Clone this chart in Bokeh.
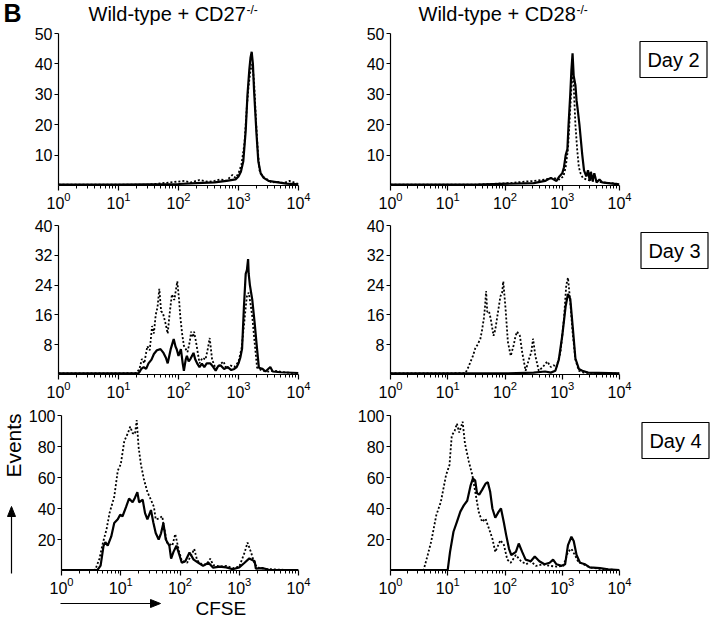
import numpy as np
from bokeh.plotting import figure
from bokeh.layouts import column, row
from bokeh.models import Range1d, FixedTicker
from bokeh.core.properties import value
from bokeh.embed import file_html
from bokeh.resources import INLINE

FONT = "Liberation Sans"

# ---------------- data: x in log10(CFSE) decades, y = events ----------------
# Day 2, Wild-type + CD27-/-
d2_cd27_dot_x = [0.0, 1.5, 2.1, 2.2, 2.35, 2.5, 2.6, 2.7, 2.8, 2.9, 2.95, 3.0, 3.05, 3.1, 3.14, 3.17, 3.2, 3.23, 3.26, 3.29, 3.32, 3.35, 3.4, 3.48, 3.55, 3.65, 3.75, 3.85, 4.0]
d2_cd27_dot_y = [0.3, 0.3, 1.5, 1.0, 1.8, 1.2, 1.5, 2.0, 1.6, 3.5, 2.5, 4.0, 7, 14, 26, 33, 38, 40, 34, 22, 12, 5, 3, 2, 1.0, 1.2, 0.8, 1.5, 0.5]
d2_cd27_sol_x = [0.0, 1.0, 2.0, 2.3, 2.6, 2.8, 2.95, 3.0, 3.04, 3.08, 3.12, 3.15, 3.18, 3.2, 3.22, 3.24, 3.26, 3.28, 3.3, 3.33, 3.37, 3.42, 3.5, 3.6, 3.8, 4.0]
d2_cd27_sol_y = [0.3, 0.3, 0.5, 0.8, 1.0, 1.5, 2.0, 3.0, 4.5, 8, 18, 30, 38, 42, 44, 40, 31, 24, 17, 8, 4, 2.5, 1.5, 1.2, 0.6, 0.4]

# Day 2, Wild-type + CD28-/-
d2_cd28_dot_x = [0.0, 1.5, 2.1, 2.3, 2.5, 2.7, 2.85, 2.95, 3.02, 3.06, 3.1, 3.13, 3.16, 3.18, 3.2, 3.23, 3.26, 3.29, 3.32, 3.36, 3.42, 3.5, 3.6, 3.7, 3.85, 4.0]
d2_cd28_dot_y = [0.3, 0.3, 0.8, 1.2, 1.5, 2.0, 2.5, 2.0, 3.0, 6, 12, 22, 32, 38, 33, 20, 12, 6, 4, 2.5, 2.0, 1.5, 1.5, 1.0, 0.8, 0.5]
d2_cd28_sol_x = [0.0, 1.5, 2.5, 2.7, 2.8, 2.9, 2.95, 3.0, 3.03, 3.06, 3.09, 3.11, 3.14, 3.16, 3.18, 3.2, 3.23, 3.25, 3.27, 3.3, 3.32, 3.35, 3.38, 3.42, 3.45, 3.48, 3.5, 3.53, 3.56, 3.6, 3.65, 3.7, 3.8, 4.0]
d2_cd28_sol_y = [0.3, 0.3, 0.8, 1.5, 2.5, 1.5, 3.0, 4.0, 6, 10, 12, 20, 30, 38, 43.5, 36, 33, 28, 25, 20, 16, 10, 5, 3, 5, 1.5, 4.5, 1.5, 4.0, 1.0, 2.0, 1.0, 0.8, 0.4]

# Day 3, Wild-type + CD27-/-
d3_cd27_dot_x = [0.0, 1.0, 1.3, 1.35, 1.39, 1.43, 1.48, 1.52, 1.56, 1.59, 1.62, 1.65, 1.68, 1.71, 1.74, 1.78, 1.82, 1.85, 1.89, 1.93, 1.98, 2.01, 2.03, 2.06, 2.09, 2.15, 2.19, 2.21, 2.24, 2.26, 2.3, 2.35, 2.4, 2.45, 2.49, 2.52, 2.56, 2.62, 2.68, 2.75, 2.8, 2.87, 2.93, 3.0, 3.05, 3.09, 3.12, 3.14, 3.17, 3.2, 3.23, 3.27, 3.31, 3.4, 3.5, 3.6, 3.8, 4.0]
d3_cd27_dot_y = [0.3, 0.3, 0.4, 1.5, 4.2, 3.0, 7.6, 6.5, 13, 11, 16, 18, 23, 17, 16.5, 14, 11, 16, 21.5, 20, 25, 20, 15.5, 11, 7.7, 6, 9, 11.5, 10, 11.5, 8, 3, 4.5, 4, 7, 9.8, 4, 1.5, 2.5, 3.5, 1.5, 2.4, 2.0, 3.4, 7, 13, 18, 21, 22, 19, 15.5, 8.4, 1.8, 1.0, 0.8, 1.0, 0.5, 0.4]
d3_cd27_sol_x = [0.0, 1.0, 1.34, 1.38, 1.42, 1.46, 1.5, 1.55, 1.59, 1.64, 1.7, 1.75, 1.79, 1.82, 1.87, 1.92, 1.95, 1.97, 2.0, 2.04, 2.07, 2.09, 2.12, 2.14, 2.17, 2.2, 2.25, 2.28, 2.31, 2.35, 2.39, 2.43, 2.47, 2.53, 2.58, 2.62, 2.66, 2.7, 2.76, 2.82, 2.88, 2.93, 2.97, 3.0, 3.03, 3.06, 3.09, 3.12, 3.14, 3.16, 3.17, 3.19, 3.23, 3.27, 3.3, 3.34, 3.4, 3.45, 3.53, 3.57, 3.7, 4.0]
d3_cd27_sol_y = [0.3, 0.3, 0.4, 1.5, 2, 1.5, 3, 4, 5.5, 6.5, 6.8, 5.8, 4.5, 3, 6.8, 9.5, 7.5, 6.8, 5, 6.8, 3, 1, 4, 5, 3.5, 4.2, 5.8, 4, 3, 2, 2.9, 2, 3, 3, 2, 1, 2.2, 2.5, 1.5, 2, 1.2, 1.5, 2, 3, 4.5, 7, 18, 27, 28, 31, 27, 24, 20, 13.7, 8.4, 1.8, 1.5, 0.8, 2, 0.8, 0.6, 0.4]

# Day 3, Wild-type + CD28-/-
d3_cd28_dot_x = [0.0, 1.0, 1.31, 1.36, 1.4, 1.44, 1.48, 1.52, 1.57, 1.6, 1.63, 1.65, 1.67, 1.69, 1.72, 1.75, 1.8, 1.83, 1.86, 1.89, 1.92, 1.95, 1.97, 2.01, 2.05, 2.1, 2.15, 2.18, 2.21, 2.26, 2.3, 2.36, 2.42, 2.46, 2.49, 2.53, 2.59, 2.66, 2.74, 2.8, 2.85, 2.9, 2.97, 3.03, 3.07, 3.1, 3.14, 3.18, 3.23, 3.29, 3.38, 3.6, 4.0]
d3_cd28_dot_y = [0.3, 0.3, 0.4, 2, 3.5, 5, 7, 8, 9.6, 12, 15, 18, 22.4, 16.8, 17, 15, 10.4, 12, 15, 18, 21, 22, 25, 17.6, 8.8, 5, 7.8, 10, 11.5, 10.4, 6, 1, 4.2, 6, 9.6, 5, 1, 2, 3.5, 2, 2.5, 2, 6, 15, 24, 26, 19.5, 11.5, 4, 1, 0.5, 0.4, 0.3]
d3_cd28_sol_x = [0.0, 2.0, 2.5, 2.7, 2.8, 2.88, 2.94, 3.0, 3.06, 3.1, 3.14, 3.19, 3.23, 3.29, 3.35, 3.45, 4.0]
d3_cd28_sol_y = [0.3, 0.3, 0.5, 0.8, 0.5, 1, 4, 10.4, 18.4, 21.6, 20.3, 11.5, 4.3, 1.5, 1, 0.5, 0.3]

# Day 4, Wild-type + CD27-/-
d4_cd27_dot_x = [0.0, 0.5, 0.57, 0.64, 0.7, 0.76, 0.81, 0.89, 0.95, 1.0, 1.06, 1.12, 1.16, 1.2, 1.24, 1.27, 1.3, 1.34, 1.39, 1.45, 1.51, 1.56, 1.59, 1.64, 1.7, 1.73, 1.78, 1.87, 1.92, 1.98, 2.03, 2.12, 2.2, 2.24, 2.29, 2.37, 2.45, 2.51, 2.56, 2.67, 2.78, 2.89, 3.0, 3.09, 3.14, 3.2, 3.26, 3.34, 3.45, 3.7, 4.0]
d4_cd27_dot_y = [0.3, 0.3, 0.5, 7.6, 18, 26.5, 37, 47.5, 64.5, 68.5, 83.5, 88.6, 92.8, 88.6, 88, 97, 80, 68.5, 59, 50.6, 45.6, 41, 33, 33.5, 35, 28, 18, 16, 23.5, 13, 6.3, 5, 10.6, 13.9, 6.5, 4, 4, 7.6, 3.5, 2.5, 3, 1.5, 2.5, 11.6, 18, 11.6, 4, 1.5, 1, 0.5, 0.3]
d4_cd27_sol_x = [0.0, 0.55, 0.61, 0.66, 0.71, 0.74, 0.78, 0.84, 0.89, 0.95, 0.99, 1.03, 1.09, 1.14, 1.2, 1.24, 1.28, 1.31, 1.37, 1.41, 1.45, 1.51, 1.55, 1.59, 1.64, 1.68, 1.72, 1.76, 1.82, 1.85, 1.89, 1.94, 1.99, 2.03, 2.09, 2.16, 2.23, 2.31, 2.39, 2.48, 2.56, 2.67, 2.78, 2.89, 3.0, 3.09, 3.17, 3.26, 3.28, 3.39, 3.5, 4.0]
d4_cd27_sol_y = [0.3, 0.3, 0.5, 3.1, 16, 18.3, 16, 22, 30.6, 33, 36, 35, 41, 46.4, 44, 47, 50.6, 44, 45.7, 37, 33, 39, 31, 24.2, 20, 24, 30.6, 20, 16, 7.6, 12, 16, 10, 5, 6, 11.6, 7, 5, 3, 5, 1.8, 2.5, 2, 0.8, 2, 5, 7.8, 6, 1.2, 1.5, 0.5, 0.3]

# Day 4, Wild-type + CD28-/-
d4_cd28_dot_x = [0.0, 0.5, 0.58, 0.65, 0.71, 0.8, 0.88, 0.97, 1.03, 1.07, 1.12, 1.16, 1.2, 1.26, 1.3, 1.37, 1.43, 1.48, 1.54, 1.6, 1.66, 1.72, 1.78, 1.83, 1.92, 1.98, 2.04, 2.1, 2.19, 2.28, 2.37, 2.45, 2.54, 2.66, 2.78, 2.9, 3.02, 3.1, 3.16, 3.22, 3.28, 3.37, 3.48, 3.7, 4.0]
d4_cd28_dot_y = [0.3, 0.3, 0.5, 10, 18.5, 35.7, 44.3, 61.5, 68, 87, 90, 94.8, 89, 96, 82, 70, 61.5, 50.8, 38, 31.4, 33.5, 27, 20.5, 12, 19.5, 16.6, 7, 5, 10, 6, 4, 6, 3, 4, 3, 2.5, 3, 12, 14, 10, 5.6, 4, 2, 0.8, 0.3]
d4_cd28_sol_x = [0.0, 0.9, 1.0, 1.04, 1.1, 1.16, 1.22, 1.28, 1.34, 1.4, 1.44, 1.48, 1.51, 1.55, 1.6, 1.66, 1.7, 1.74, 1.78, 1.83, 1.89, 1.93, 1.98, 2.02, 2.07, 2.11, 2.19, 2.24, 2.3, 2.36, 2.45, 2.52, 2.6, 2.69, 2.78, 2.84, 2.9, 2.99, 3.05, 3.1, 3.16, 3.2, 3.25, 3.31, 3.4, 3.48, 3.66, 3.8, 4.0]
d4_cd28_sol_y = [0.3, 0.3, 0.5, 12, 25, 31.4, 38, 42, 45, 55, 59.4, 58, 50, 49, 52, 56, 57, 51, 40, 34, 38, 40, 31, 23, 14, 10, 12, 17.4, 12, 7, 6, 9, 6, 4, 5, 7, 4, 3, 4, 16.4, 21.8, 19, 10, 5, 4, 2, 1.5, 0.8, 0.3]

column_titles = ["Wild-type + CD27", "Wild-type + CD28"]
title_sup = "-/-"
day_labels = ["Day 2", "Day 3", "Day 4"]
y_ticks_rows = [[10, 20, 30, 40, 50], [8, 16, 24, 32, 40], [20, 40, 60, 80, 100]]
y_max_rows = [50, 40, 100]
x_major = [1, 10, 100, 1000, 10000]

# ---------------- layout geometry (page pixels) ----------------
TOP_H = 25
BOT_H = 24
LEFT_W = 25
RIGHT_W = 82
COL_W = [313, 300]
COL_BL = [33, 52]
COL_FW = [240, 229]
ROW_Y = [25, 214, 406]
ROW_H = [189, 192, 192]
FRAME_TOP = [[33, 33], [225, 224], [415, 415]]
FRAME_BOT = [[186, 185], [377, 374], [573, 570]]
MID_H = sum(ROW_H)


def panel(r, c, ymax, yticks, dot_x, dot_y, sol_x, sol_y):
    bt = FRAME_TOP[r][c] - ROW_Y[r]
    bb = ROW_Y[r] + ROW_H[r] - FRAME_BOT[r][c]
    br = COL_W[c] - COL_BL[c] - COL_FW[c]
    p = figure(width=COL_W[c], height=ROW_H[r], x_axis_type="log",
               x_range=Range1d(1, 10000), y_range=Range1d(0, ymax),
               output_backend="svg", toolbar_location=None,
               min_border_left=COL_BL[c], min_border_right=br,
               min_border_top=bt, min_border_bottom=bb)
    p.outline_line_color = None
    p.grid.visible = False

    xa = p.xaxis[0]
    xa.ticker = FixedTicker(ticks=x_major,
                            minor_ticks=[m * 10 ** k for k in range(4) for m in range(2, 10)])
    xa.major_tick_out = 5
    xa.major_tick_in = 0
    xa.minor_tick_out = 3
    xa.minor_tick_in = 0
    xa.axis_line_width = 1.2
    xa.major_tick_line_width = 1.2
    xa.major_label_text_font = FONT
    xa.major_label_text_font_size = "16px"
    xa.major_label_text_color = "black"
    xa.major_label_standoff = 1

    ya = p.yaxis[0]
    ya.ticker = FixedTicker(ticks=yticks)
    ya.major_tick_out = 4
    ya.major_tick_in = 0
    ya.minor_tick_out = 0
    ya.minor_tick_in = 0
    ya.axis_line_width = 1.2
    ya.major_tick_line_width = 1.2
    ya.major_label_text_font = FONT
    ya.major_label_text_font_size = "16px"
    ya.major_label_text_color = "black"
    ya.major_label_standoff = 2

    p.line(10 ** np.array(dot_x), dot_y, line_color="black", line_width=1.8, line_dash="2 2")
    p.line(10 ** np.array(sol_x), sol_y, line_color="black", line_width=2.2)
    return p


class Strip:
    """A blank figure whose data space is its own pixel grid (y measured up)."""
    def __init__(self, x0, y0, w, h):
        self.x0, self.y0, self.w, self.h = x0, y0, w, h
        p = figure(width=w, height=h, x_range=Range1d(0, w), y_range=Range1d(0, h),
                   output_backend="svg", toolbar_location=None,
                   x_axis_location=None, y_axis_location=None, min_border=0)
        p.outline_line_color = None
        p.grid.visible = False
        self.p = p

    def xy(self, px, py):
        return px - self.x0, self.y0 + self.h - py

    def text(self, px, py, t, size, style="normal", align="left", angle=0.0):
        # py is the vertical centre of the text
        x, y = self.xy(px, py)
        self.p.text(x=[x], y=[y], text=[t], text_font=value(FONT),
                    text_font_size=value(f"{size}px"), text_font_style=value(style),
                    text_align=value(align), text_baseline=value("middle"),
                    angle=angle, text_color="black")

    def box(self, cx, cy, w, h):
        x, y = self.xy(cx, cy)
        self.p.rect(x=[x], y=[y], width=w, height=h, fill_color="white",
                    line_color="black", line_width=1.2)

    def arrow(self, px0, py0, px1, py1, head=10, half=4):
        x0, y0 = self.xy(px0, py0)
        x1, y1 = self.xy(px1, py1)
        L = np.hypot(x1 - x0, y1 - y0)
        ux, uy = (x1 - x0) / L, (y1 - y0) / L
        bx, by = x1 - ux * head, y1 - uy * head
        self.p.line([x0, bx], [y0, by], line_color="black", line_width=1.2)
        self.p.patch([x1, bx - uy * half, bx + uy * half], [y1, by + ux * half, by - ux * half],
                     fill_color="black", line_color="black", line_width=1)


# top strip: panel letter + column titles
top = Strip(0, 0, 720, TOP_H)
top.text(3, 12, "B", 25, style="bold")
top.text(88, 13, column_titles[0], 20)
top.text(246, 9, title_sup, 12)
top.text(418, 13, column_titles[1], 20)
top.text(576, 9, title_sup, 12)

# left strip: y-axis caption + arrow
left = Strip(0, TOP_H, LEFT_W, MID_H)
left.text(12.5, 445, "Events", 21, align="center", angle=np.pi / 2)
left.arrow(11, 573, 11, 506)

# right strip: day boxes
right = Strip(720 - RIGHT_W, TOP_H, RIGHT_W, MID_H)
DAY_CENTER = [(673, 59), (674, 250), (675, 440)]
for (cx, cy), lab in zip(DAY_CENTER, day_labels):
    right.box(cx, cy, 67, 36)
    right.text(cx, cy, lab, 20, align="center")

# bottom strip: x-axis caption + arrow
bottom = Strip(0, TOP_H + MID_H, 720, BOT_H)
bottom.arrow(60, 603, 160, 603)
bottom.text(195, 608, "CFSE", 19)

data = [
    (d2_cd27_dot_x, d2_cd27_dot_y, d2_cd27_sol_x, d2_cd27_sol_y, d2_cd28_dot_x, d2_cd28_dot_y, d2_cd28_sol_x, d2_cd28_sol_y),
    (d3_cd27_dot_x, d3_cd27_dot_y, d3_cd27_sol_x, d3_cd27_sol_y, d3_cd28_dot_x, d3_cd28_dot_y, d3_cd28_sol_x, d3_cd28_sol_y),
    (d4_cd27_dot_x, d4_cd27_dot_y, d4_cd27_sol_x, d4_cd27_sol_y, d4_cd28_dot_x, d4_cd28_dot_y, d4_cd28_sol_x, d4_cd28_sol_y),
]

panel_rows = []
for i in range(3):
    lx, ly, lsx, lsy, rx, ry, rsx, rsy = data[i]
    pl = panel(i, 0, y_max_rows[i], y_ticks_rows[i], lx, ly, lsx, lsy)
    pr = panel(i, 1, y_max_rows[i], y_ticks_rows[i], rx, ry, rsx, rsy)
    panel_rows.append(row(pl, pr))

layout = column(top.p, row(left.p, column(*panel_rows), right.p), bottom.p)
open("out.html", "w").write(file_html(layout, INLINE))
